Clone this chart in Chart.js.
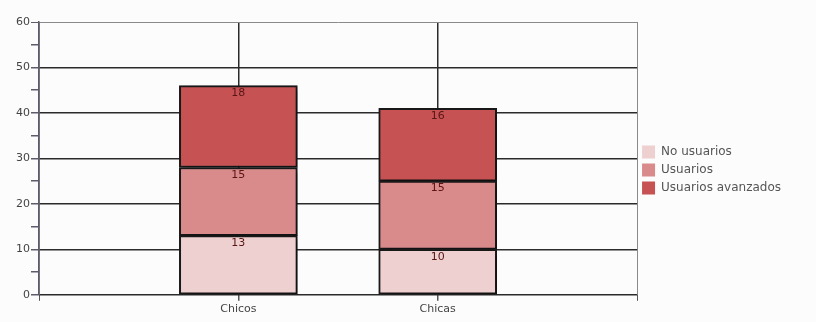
<!DOCTYPE html>
<html lang="es">
<head>
    <meta charset="UTF-8">
    <title>Usuarios por sexo</title>
    <script src="https://cdn.jsdelivr.net/npm/chart.js"></script>
    <style>
        body {
            margin: 0;
            background: #fcfcfc;
        }
        .chart-box {
            width: 816px;
            height: 322px;
        }
    </style>
</head>
<body>
    <div class="chart-box">
        <canvas id="usersChart"></canvas>
    </div>

    <script>
        // data
        const categories = ['Chicos', 'Chicas'];
        const seriesNames = ['No usuarios', 'Usuarios', 'Usuarios avanzados'];
        const noUsuarios = [13, 10];
        const usuarios = [15, 15];
        const avanzados = [18, 16];
        const yTicks = [0, 10, 20, 30, 40, 50, 60];

        const colors = ['#efd0d0', '#d98b8c', '#c65253'];

        // empty slot on each side so the bars sit on gridlines like the original
        const labels = [''].concat(categories, ['']);
        function pad(values) {
            return [null].concat(values, [null]);
        }

        const barShadow = {
            id: 'barShadow',
            beforeDatasetsDraw(chart) {
                const ctx = chart.ctx;
                ctx.save();
                ctx.shadowColor = 'rgba(0, 0, 0, 0.35)';
                ctx.shadowBlur = 6;
                ctx.shadowOffsetX = 4;
                ctx.shadowOffsetY = 3;
            },
            afterDatasetsDraw(chart) {
                chart.ctx.restore();
            }
        };

        const valueLabels = {
            id: 'valueLabels',
            afterDatasetsDraw(chart) {
                const ctx = chart.ctx;
                ctx.save();
                ctx.font = '11px "DejaVu Sans"';
                ctx.fillStyle = '#5a1515';
                ctx.textAlign = 'center';
                ctx.textBaseline = 'top';
                chart.data.datasets.forEach((ds, i) => {
                    chart.getDatasetMeta(i).data.forEach((bar, j) => {
                        const v = ds.data[j];
                        if (v === null) return;
                        ctx.fillText(v, bar.x, bar.y + 2);
                    });
                });
                ctx.restore();
            }
        };

        const ctx = document.getElementById('usersChart').getContext('2d');
        new Chart(ctx, {
            type: 'bar',
            data: {
                labels: labels,
                datasets: [
                    { label: seriesNames[0], data: pad(noUsuarios), backgroundColor: colors[0] },
                    { label: seriesNames[1], data: pad(usuarios), backgroundColor: colors[1] },
                    { label: seriesNames[2], data: pad(avanzados), backgroundColor: colors[2] }
                ].map(ds => Object.assign(ds, {
                    borderColor: '#1a1a1a',
                    borderWidth: 2,
                    borderSkipped: false,
                    barThickness: 118
                }))
            },
            plugins: [barShadow, valueLabels],
            options: {
                responsive: true,
                maintainAspectRatio: false,
                animation: false,
                layout: {
                    padding: { top: 22, right: 25, bottom: 4, left: 0 }
                },
                plugins: {
                    tooltip: { enabled: false },
                    legend: {
                        position: 'right',
                        labels: {
                            boxWidth: 13,
                            boxHeight: 13,
                            padding: 5,
                            color: '#555',
                            font: { family: 'DejaVu Sans', size: 12 },
                            generateLabels(chart) {
                                const items = Chart.defaults.plugins.legend.labels.generateLabels(chart);
                                items.forEach(it => { it.lineWidth = 0; });
                                return items;
                            }
                        }
                    }
                },
                scales: {
                    x: {
                        stacked: true,
                        offset: false,
                        grid: {
                            offset: false,
                            color: c => (c.index === 1 || c.index === 2) ? '#2b2b2b' : '#8a8a8a',
                            lineWidth: c => (c.index === 1 || c.index === 2) ? 1.5 : 1,
                            tickColor: '#555',
                            tickLength: 6
                        },
                        border: { display: false },
                        ticks: {
                            color: '#444',
                            font: { family: 'DejaVu Sans', size: 11 },
                            padding: 2,
                            maxRotation: 0,
                            autoSkip: false
                        }
                    },
                    y: {
                        stacked: true,
                        min: yTicks[0],
                        max: yTicks[yTicks.length - 1],
                        afterFit(scale) { scale.width = 39; },
                        afterBuildTicks(scale) {
                            // majors every 10, minor tick marks every 5
                            const t = [];
                            yTicks.forEach((v, i) => {
                                t.push({ value: v });
                                if (i < yTicks.length - 1) t.push({ value: v + 5 });
                            });
                            scale.ticks = t;
                        },
                        grid: {
                            color: c => {
                                const v = c.tick ? c.tick.value : 0;
                                if (v % 10 !== 0) return 'rgba(0,0,0,0)';
                                return v === 60 ? '#8a8a8a' : '#2b2b2b';
                            },
                            lineWidth: c => (c.tick && c.tick.value === 60) ? 1 : 1.5,
                            tickColor: '#5c5c6c',
                            tickLength: 8
                        },
                        border: { display: true, color: '#5c5c6c', width: 1.5 },
                        ticks: {
                            color: '#444',
                            font: { family: 'DejaVu Sans', size: 11 },
                            padding: 1,
                            callback: v => (v % 10 === 0 ? v : '')
                        }
                    }
                }
            }
        });
    </script>
</body>
</html>
